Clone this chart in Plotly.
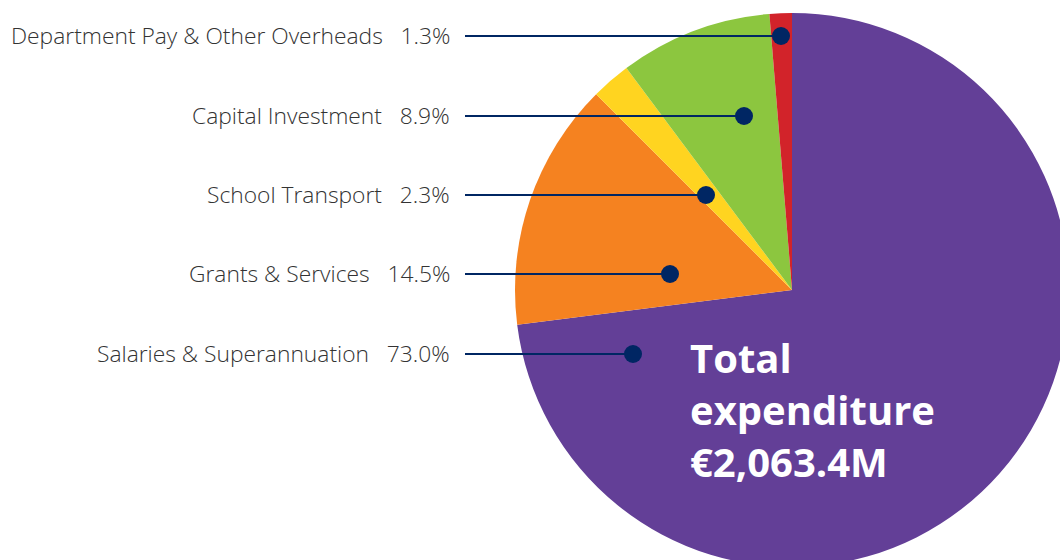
import plotly.graph_objects as go

# ---- data ----
categories = ["Salaries & Superannuation", "Grants & Services", "School Transport",
              "Capital Investment", "Department Pay & Other Overheads"]
shares = [73.0, 14.5, 2.3, 8.9, 1.3]
colors = ["#633F97", "#F58220", "#FFD420", "#8CC63F", "#D2232A"]
total_label = "€2,063.4M"

# ---- layout geometry (pixels) ----
W, H = 1080, 580
cx, cy, R = 792, 290, 277
label_rows = {  # category -> (row y, leader dot x)
    "Department Pay & Other Overheads": (36, 781),
    "Capital Investment": (116, 744),
    "School Transport": (195, 706),
    "Grants & Services": (274, 670),
    "Salaries & Superannuation": (354, 633),
}
text_right = 452
line_start = 465
dot_r = 9
navy = "#002663"
gap = "\u00a0\u00a0\u00a0"

fig = go.Figure()
fig.add_trace(go.Pie(
    labels=categories, values=shares, sort=False, direction="clockwise", rotation=0,
    marker=dict(colors=colors, line=dict(width=0)),
    textinfo="none", hoverinfo="label+percent", showlegend=False,
    domain=dict(x=[(cx - R) / W, (cx + R) / W], y=[1 - (cy + R) / H, 1 - (cy - R) / H]),
))

shapes, annotations = [], []
for cat, val in zip(categories, shares):
    yy, dx = label_rows[cat]
    shapes.append(dict(type="line", xref="x", yref="y", x0=line_start, x1=dx, y0=yy, y1=yy,
                       line=dict(color=navy, width=2), layer="above"))
    shapes.append(dict(type="circle", xref="x", yref="y", x0=dx - dot_r, x1=dx + dot_r,
                       y0=yy - dot_r, y1=yy + dot_r, fillcolor=navy,
                       line=dict(color=navy, width=0), layer="above"))
    annotations.append(dict(xref="x", yref="y", x=text_right, y=yy - 1, xanchor="right", yanchor="middle",
                            text=f"{cat}{gap}{val:.1f}%", showarrow=False,
                            font=dict(family="Open Sans", size=22.8, color="#333333", weight=350)))

annotations.append(dict(xref="x", yref="y", x=688, y=409, xanchor="left", yanchor="middle", align="left",
                        text=f"<b>Total<br>expenditure<br>{total_label}</b>", showarrow=False,
                        font=dict(family="Open Sans", size=40, color="white")))

fig.update_layout(
    width=W, height=H, margin=dict(l=0, r=0, t=0, b=0),
    paper_bgcolor="white", plot_bgcolor="rgba(0,0,0,0)",
    xaxis=dict(range=[0, W], visible=False, fixedrange=True, domain=[0, 1]),
    yaxis=dict(range=[H, 0], visible=False, fixedrange=True, domain=[0, 1]),
    shapes=shapes, annotations=annotations,
)

fig.write_html("out.html", config={"displayModeBar": False},
               post_script="document.body.style.margin='0';document.body.style.overflow='hidden';")
